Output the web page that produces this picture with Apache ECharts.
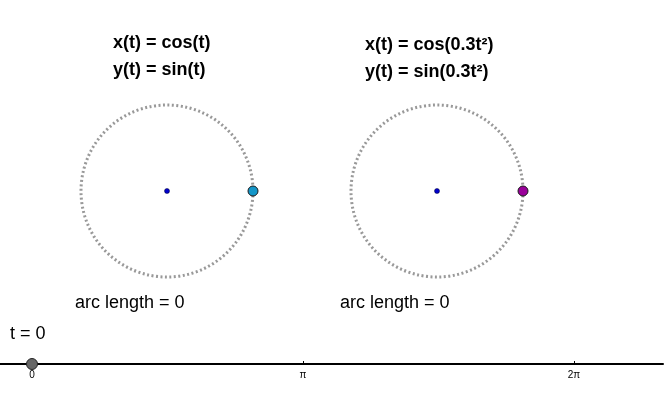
<!DOCTYPE html>
<html>
<head>
<meta charset="utf-8">
<script src="https://cdn.jsdelivr.net/npm/echarts@6/dist/echarts.min.js"></script>
<style>html,body{margin:0;padding:0;background:#fff}#main{width:666px;height:400px}</style>
</head>
<body>
<div id="main"></div>
<script>
var myChart = echarts.init(document.getElementById('main'));

var tValue = 0;
var tTicks = [0, Math.PI, 2 * Math.PI];
var tTickLabels = ['0', 'π', '2π'];
var leftPoint = [1, 0];   // [radius, angle deg] cos(t), sin(t) at t=0
var rightPoint = [1, 0];  // cos(0.3t²), sin(0.3t²) at t=0
var centre = [0, 0];
var captions = ['x(t) = cos(t)', 'y(t) = sin(t)', 'x(t) = cos(0.3t²)', 'y(t) = sin(0.3t²)'];
var arcLabels = ['arc length = 0', 'arc length = 0'];

var font = 'Liberation Sans, Arial, sans-serif';
function txt(text, left, top, size, weight) {
    return {text: text, left: left, top: top, padding: 0,
        textStyle: {fontFamily: font, fontSize: size, fontWeight: weight, color: '#000'}};
}

function polarAxis(i) {
    return {
        polarIndex: i, startAngle: 0, min: 0, max: 360,
        axisLine: {lineStyle: {color: '#999', width: 3, type: [2, 2.5]}},
        axisTick: {show: false}, axisLabel: {show: false}, splitLine: {show: false}
    };
}

option = {
    animation: false,
    title: [
        txt(captions[0], 113, 34, 18, 'bold'),
        txt(captions[1], 113, 61, 18, 'bold'),
        txt(captions[2], 365, 36, 18, 'bold'),
        txt(captions[3], 365, 63, 18, 'bold'),
        txt(arcLabels[0], 75, 294, 18, 'normal'),
        txt(arcLabels[1], 340, 294, 18, 'normal'),
        txt('t = ' + tValue, 10, 325, 18, 'normal')
    ],
    polar: [
        {center: [167, 191], radius: 86},
        {center: [437, 191], radius: 86}
    ],
    angleAxis: [polarAxis(0), polarAxis(1)],
    radiusAxis: [
        {polarIndex: 0, min: 0, max: 1, show: false},
        {polarIndex: 1, min: 0, max: 1, show: false}
    ],
    grid: {left: 0, right: 3, top: 363, height: 1},
    xAxis: {
        type: 'value', min: -32 / 271 * Math.PI, max: 631 / 271 * Math.PI,
        position: 'bottom',
        axisLine: {lineStyle: {color: '#000', width: 2}},
        axisTick: {customValues: tTicks, length: 3, inside: true, lineStyle: {color: '#000'}},
        axisLabel: {customValues: tTicks, fontSize: 10, color: '#000', fontFamily: font, margin: 6,
            formatter: function (v) { return tTickLabels[tTicks.indexOf(v)]; }},
        splitLine: {show: false}
    },
    yAxis: {type: 'value', min: 0, max: 1, show: false},
    series: [
        {type: 'scatter', coordinateSystem: 'polar', polarIndex: 0, data: [centre], symbolSize: 5,
            itemStyle: {color: '#0000cc', opacity: 1, borderColor: '#000033', borderWidth: 0.5}},
        {type: 'scatter', coordinateSystem: 'polar', polarIndex: 0, data: [leftPoint], symbolSize: 10,
            itemStyle: {color: '#1496c8', opacity: 1, borderColor: '#1a1a1a', borderWidth: 1}},
        {type: 'scatter', coordinateSystem: 'polar', polarIndex: 1, data: [centre], symbolSize: 5,
            itemStyle: {color: '#0000cc', opacity: 1, borderColor: '#000033', borderWidth: 0.5}},
        {type: 'scatter', coordinateSystem: 'polar', polarIndex: 1, data: [rightPoint], symbolSize: 10,
            itemStyle: {color: '#990099', opacity: 1, borderColor: '#1a1a1a', borderWidth: 1}},
        {type: 'scatter', data: [[tValue, 0]], symbolSize: 11, z: 5,
            itemStyle: {color: '#666', opacity: 1, borderColor: '#222', borderWidth: 1}}
    ]
};
myChart.setOption(option);
</script>
</body>
</html>
